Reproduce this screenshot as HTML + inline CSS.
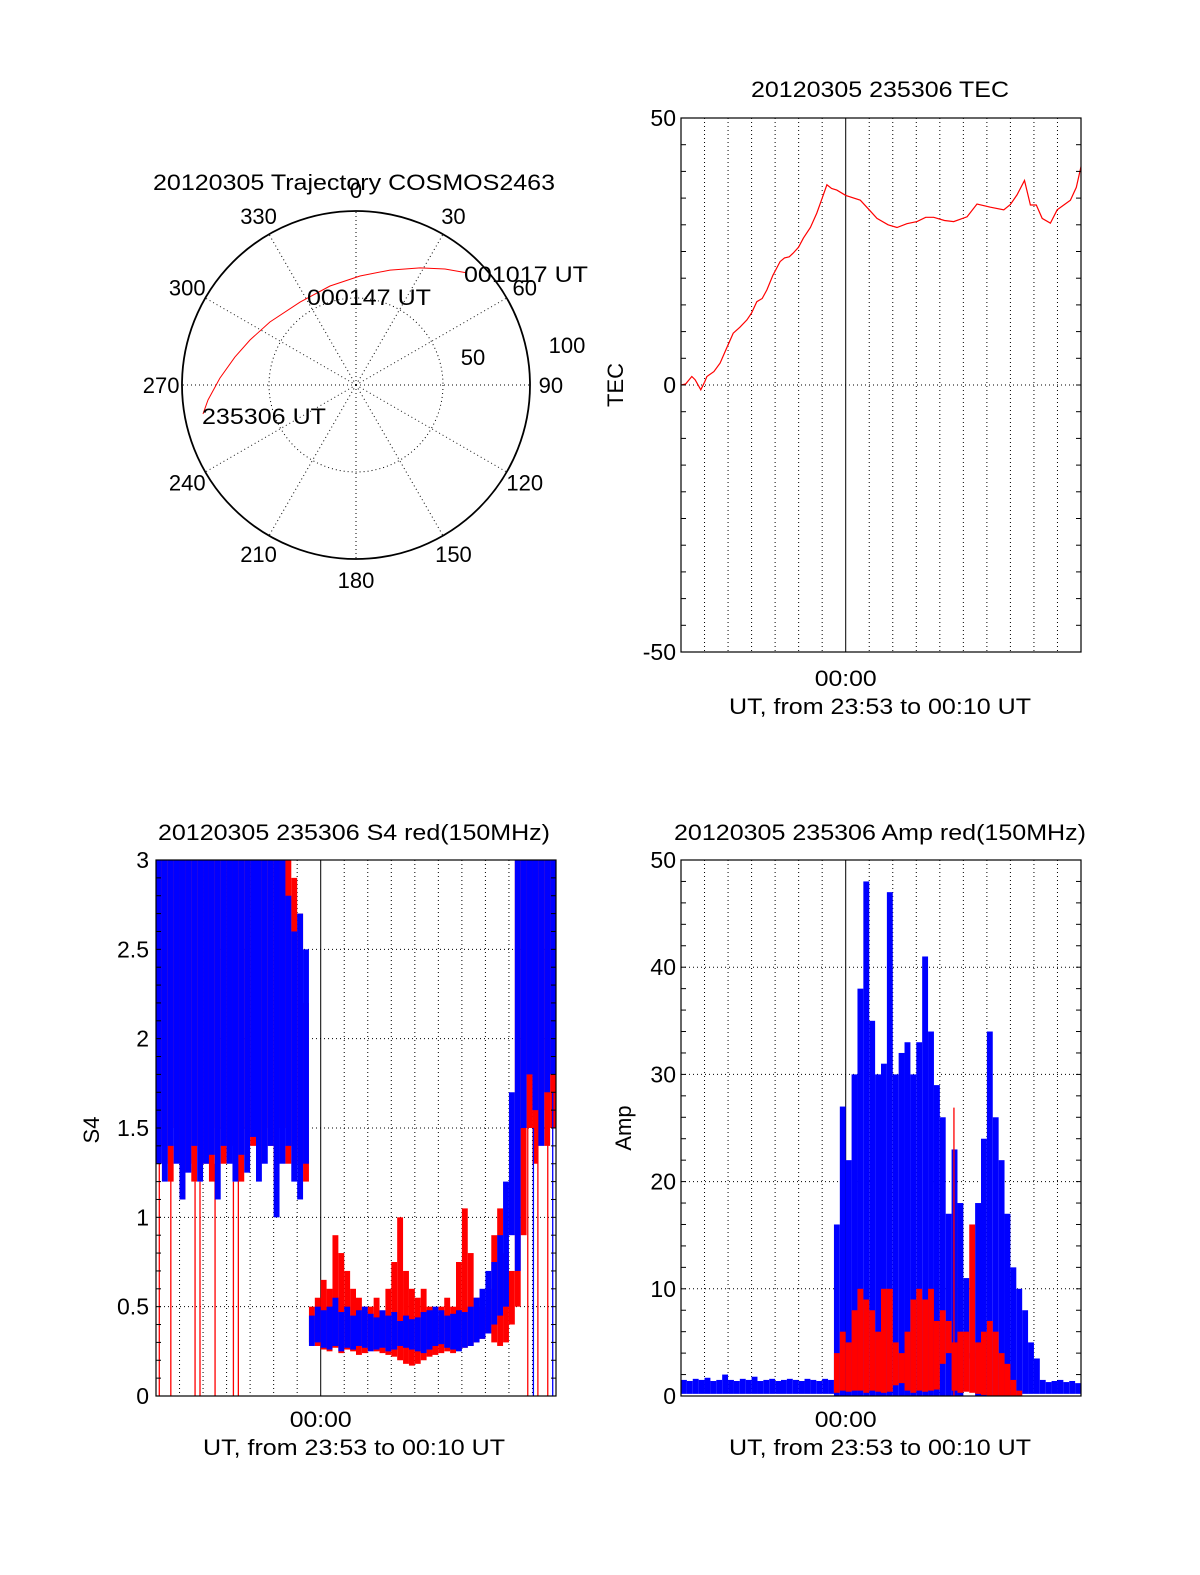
<!DOCTYPE html>
<html><head><meta charset="utf-8"><style>
html,body{margin:0;padding:0;background:#fff;overflow:hidden;width:1200px;height:1575px;}
svg{display:block;font-family:"Liberation Sans",Arial,sans-serif;}
</style></head><body>
<svg id="fig" width="1200" height="1575" viewBox="0 0 1200 1575" xmlns="http://www.w3.org/2000/svg"></svg>
<script>
// ---------- DATA ----------
const trajAz = [259.3,264.2,272.9,283,293,306.2,326,345.3,2.1,16.5,28.7,37.5,44.7];
const trajR  = [89.5,85.5,78.3,71.4,66.2,61.3,57.5,58.8,62.7,68.9,76.7,84.0,90.6];
const polarAngleLabels = ["0","30","60","90","120","150","180","210","240","270","300","330"];
const polarAngles = [0,30,60,90,120,150,180,210,240,270,300,330];

const tecT = [0,0.2,0.46,0.6,0.84,1.0,1.1,1.4,1.66,1.9,2.22,2.5,2.8,3.0,3.22,3.45,3.65,3.9,4.21,4.4,4.6,4.77,5.0,5.2,5.5,5.77,6.0,6.2,6.4,6.62,7.0,7.62,8.0,8.33,8.8,9.18,9.6,10.03,10.4,10.74,11.2,11.59,12.16,12.58,13.15,13.72,14.0,14.28,14.6,14.85,15.1,15.35,15.7,15.99,16.3,16.55,16.8,17];
const tecV = [0,0.2,1.6,1.0,-0.9,0.5,1.6,2.5,4.1,6.5,9.7,10.8,12.2,13.5,15.6,16.2,17.8,20.5,23.1,23.8,24.0,24.7,25.8,27.5,29.5,32.2,35.0,37.5,36.8,36.5,35.5,34.6,32.8,31.2,30.0,29.5,30.2,30.6,31.4,31.4,30.8,30.6,31.5,33.9,33.3,32.8,33.8,35.6,38.3,33.7,33.7,31.2,30.3,32.8,33.8,34.6,37.0,40.9];

const s4BlueLo = [1.3,1.2,1.4,1.3,1.1,1.25,1.4,1.2,1.3,1.35,1.1,1.4,1.3,1.2,1.35,1.25,1.45,1.2,1.3,1.4,1.0,1.3,1.4,1.2,1.1,1.3,
 0.28,0.3,0.27,0.26,0.28,0.25,0.27,0.26,0.28,0.27,0.25,0.26,0.27,0.25,0.26,0.28,0.27,0.26,0.25,0.24,0.26,0.28,0.29,0.27,0.26,0.25,0.27,0.28,0.3,0.32,0.35,0.4,0.45,0.5,
 0.9,0.7,1.5,1.8,1.6,1.4,1.7,1.8];
const s4BlueHi = [3,3,3,3,3,3,3,3,3,3,3,3,3,3,3,3,3,3,3,3,3,3,2.8,2.6,2.7,2.5,
 0.45,0.5,0.48,0.5,0.55,0.47,0.5,0.45,0.48,0.5,0.46,0.44,0.48,0.45,0.47,0.42,0.45,0.43,0.44,0.47,0.48,0.5,0.48,0.45,0.46,0.48,0.47,0.5,0.55,0.6,0.7,0.75,0.9,1.2,
 1.7,3,3,3,3,3,3,3];
const s4RedLo = [1.4,1.3,1.2,1.5,1.1,1.3,1.2,1.4,1.3,1.2,1.5,1.3,1.4,1.3,1.2,1.5,1.4,1.3,1.5,1.4,1.2,1.5,1.3,1.4,1.3,1.2,
 0.3,0.28,0.26,0.25,0.27,0.24,0.26,0.25,0.23,0.24,0.26,0.25,0.24,0.23,0.22,0.2,0.18,0.17,0.18,0.2,0.22,0.23,0.24,0.25,0.24,0.26,0.27,0.28,0.3,0.32,0.35,0.3,0.28,0.3,
 0.4,0.5,0.9,1.5,1.3,1.6,1.4,1.5];
const s4RedHi = [3,3,3,3,3,3,3,3,3,3,3,3,3,3,3,3,3,3,3,3,3,3,3,2.9,2.7,2.2,
 0.5,0.55,0.65,0.6,0.9,0.8,0.7,0.6,0.55,0.5,0.5,0.55,0.45,0.6,0.75,1.0,0.7,0.6,0.55,0.6,0.5,0.45,0.5,0.55,0.5,0.75,1.05,0.8,0.55,0.5,0.6,0.9,1.05,0.8,
 0.7,3,3,3,3,3,3,3];
const s4RedSpikeT = [0.14,0.63,1.66,1.87,2.51,3.29,3.5,15.8,16.23,16.65];
const s4RedSpikeV = [1.4,1.3,1.2,1.2,1.3,1.2,1.3,1.5,1.6,1.5];
const s4BlueSpikeT = [16.04,16.86];
const s4BlueSpikeV = [1.5,1.7];

const ampBlueHi = [1.5,1.4,1.6,1.5,1.7,1.4,1.5,2.0,1.5,1.4,1.6,1.5,1.8,1.4,1.5,1.6,1.4,1.5,1.6,1.5,1.4,1.6,1.5,1.4,1.6,1.5,
 16,27,22,30,38,48,35,30,31,47,30,32,33,30,33,41,34,29,26,17,23,18,11,4,18,24,34,26,22,17,12,10,8,5,3.5,1.5,
 1.3,1.4,1.5,1.3,1.4,1.2];
const ampBlueLo = [0.2,0.2,0.2,0.2,0.2,0.2,0.2,0.2,0.2,0.2,0.2,0.2,0.2,0.2,0.2,0.2,0.2,0.2,0.2,0.2,0.2,0.2,0.2,0.2,0.2,0.2,
 0,0,0,0,0,0,0,0,0,0,0,0,0,0,0,0,0,0,0,0,0,0,0.5,3.5,0,0,0,0,0,0,0,0,0.2,0.2,0.2,0.2,
 0.2,0.2,0.2,0.2,0.2,0.2];
const ampRedHi = [0,0,0,0,0,0,0,0,0,0,0,0,0,0,0,0,0,0,0,0,0,0,0,0,0,0,
 4,6,5,8,10,9,8,6,10,10,5,4,6,9,10,9,10,7,8,7,5,6,6,16,5,6,7,6,4,3,1.5,0.5,0,0,0,0,
 0,0,0,0,0,0];
const ampRedLo = [0,0,0,0,0,0,0,0,0,0,0,0,0,0,0,0,0,0,0,0,0,0,0,0,0,0,
 0.3,0.5,0.4,0.5,0.5,0.3,0.5,0.4,0.3,0.4,1.0,1.2,0.5,0.3,0.5,0.4,0.5,0.6,3.0,4.0,0.5,0.3,0.4,0.3,0.2,0.1,0,0,0,0,0,0,
 0,0,0,0,0,0];
const ampSpikeT = [11.6];
const ampSpikeV = [26.9];

const yTicksTEC = ["50","0","-50"];
const yTicksTECv = [50,0,-50];
const yTicksS4 = ["3","2.5","2","1.5","1","0.5","0"];
const yTicksS4v = [3,2.5,2,1.5,1,0.5,0];
const yTicksAmp = ["50","40","30","20","10","0"];
const yTicksAmpv = [50,40,30,20,10,0];

// ---------- DRAW ----------
const NS = 'http://www.w3.org/2000/svg';
const svg = document.getElementById('fig');
function el(tag, attrs, parent){
  const e = document.createElementNS(NS, tag);
  for (const k in attrs) e.setAttribute(k, attrs[k]);
  (parent||svg).appendChild(e);
  return e;
}
function txt(s, x, y, anchor, size, len, parent){
  const a = {x:x, y:y, 'text-anchor':anchor, 'font-size':size, fill:'#000'};
  if (len) { a.textLength = len; a.lengthAdjust = 'spacingAndGlyphs'; }
  const t = el('text', a, parent);
  t.textContent = s;
  return t;
}
function makePanel(name, L, T, W, H, ymin, ymax){
  const g = el('g', {});
  
  
  const X = t => L + t * W / 17;
  const Y = v => T + H - (Math.max(ymin, Math.min(ymax, v)) - ymin) * H / (ymax - ymin);
  return {g, X, Y, L, T, W, H};
}
function grid(p, hVals, solidT){
  for (let m = 1; m < 17; m++){
    const x = p.X(m);
    const ln = el('line', {x1:x, y1:p.T, x2:x, y2:p.T+p.H, stroke:'#000', 'stroke-width':1, 'stroke-dasharray': m===solidT ? 'none' : '1 3'}, p.g);
    
    
  }
  hVals.forEach(v => {
    const y = p.Y(v);
    const ln = el('line', {x1:p.L, y1:y, x2:p.L+p.W, y2:y, stroke:'#000', 'stroke-width':1, 'stroke-dasharray':'1 3'}, p.g);
    
    
  });
}
function frame(p, minorStep, ymin, ymax){
  for (let v = ymin; v <= ymax + 1e-9; v += minorStep){
    const y = p.Y(v);
    el('line', {x1:p.L, y1:y, x2:p.L+5, y2:y, stroke:'#000'}, p.g);
    el('line', {x1:p.L+p.W-5, y1:y, x2:p.L+p.W, y2:y, stroke:'#000'}, p.g);
  }
  const r = el('rect', {x:p.L, y:p.T, width:p.W, height:p.H, fill:'none', stroke:'#000', 'stroke-width':1.2}, p.g);
  
  
}
function envelope(p, lo, hi, color, name){
  const g = el('g', {fill:color}, p.g);
  
  
  for (let i = 0; i < hi.length; i++){
    if (hi[i] <= lo[i]) continue;
    const x0 = p.X(i*0.25), x1 = p.X((i+1)*0.25);
    const y0 = p.Y(hi[i]), y1 = p.Y(lo[i]);
    const r = el('rect', {x:x0, y:y0, width:x1-x0, height:Math.max(1, y1-y0)}, g);
    
    
  }
}
function spikes(p, ts, vs, color, name){
  ts.forEach((t,i) => {
    const x = p.X(t);
    const l = el('line', {x1:x, y1:p.Y(0), x2:x, y2:p.Y(vs[i]), stroke:color, 'stroke-width':1.3}, p.g);
    
    
  });
}
function yTicks(p, labels, vals, xr){
  labels.forEach((s,i) => {
    const t = txt(s, xr, p.Y(vals[i]) + 8, 'end', 23, null, p.g);
    
    
  });
}
function xLabels(p, cx){
  const a = txt('00:00', p.X(7), 686, 'middle', 22, 62, p.g);
  
  
  const b = txt('UT, from 23:53 to 00:10 UT', cx, 714, 'middle', 22, 302, p.g);
  
  
  return [a,b];
}

// ---- Polar plot ----
(function(){
  const g = el('g', {});
  
  
  const cx = 356, cy = 385, R = 174;
  const PX = (az, r) => cx + r*R/100*Math.sin(az*Math.PI/180);
  const PY = (az, r) => cy - r*R/100*Math.cos(az*Math.PI/180);
  const inner = el('circle', {cx:cx, cy:cy, r:R/2, fill:'none', stroke:'#000', 'stroke-dasharray':'1 3'}, g);
  
  
  polarAngles.forEach((a,i) => {
    const l = el('line', {x1:cx, y1:cy, x2:PX(a,100), y2:PY(a,100), stroke:'#000', 'stroke-dasharray':'1 3'}, g);
    
    
    const t = txt(polarAngleLabels[i], PX(a,112), PY(a,112)+8, 'middle', 22, null, g);
    
    
  });
  const outer = el('circle', {cx:cx, cy:cy, r:R, fill:'none', stroke:'#000', 'stroke-width':1.8}, g);
  
  
  const pts = trajAz.map((a,i) => PX(a,trajR[i]).toFixed(1) + ',' + PY(a,trajR[i]).toFixed(1)).join(' ');
  const tr = el('polyline', {points:pts, fill:'none', stroke:'#f00', 'stroke-width':1}, g);
  
  
  const t1 = txt('20120305 Trajectory COSMOS2463', 354, 190, 'middle', 22, 402, g);
  
  
  const l100 = txt('100', 567, 353, 'middle', 22, null, g);
  
  
  const l50 = txt('50', 473, 365, 'middle', 22, null, g);
  
  
  const e = txt('001017 UT', 464, 282, 'start', 22, 124, g);
  
  
  const m = txt('000147 UT', 307, 305, 'start', 22, 124, g);
  
  
  const s = txt('235306 UT', 202, 424, 'start', 22, 124, g);
  
  
})();

// ---- TEC plot ----
(function(){
  const p = makePanel('tec-plot', 681, 118, 400, 534, -50, 50);
  grid(p, [0], 7);
  const pts = tecT.map((t,i) => p.X(t).toFixed(1) + ',' + p.Y(tecV[i]).toFixed(1)).join(' ');
  const l = el('polyline', {points:pts, fill:'none', stroke:'#f00', 'stroke-width':1.2}, p.g);
  
  
  frame(p, 5, -50, 50);
  yTicks(p, yTicksTEC, yTicksTECv, 676);
  const ti = txt('20120305 235306 TEC', 880, 97, 'middle', 22, 258, p.g);
  
  
  const yt = el('text', {x:0, y:0, transform:'translate(623,385) rotate(-90)', 'text-anchor':'middle', 'font-size':22}, p.g);
  yt.textContent = 'TEC';
  
  
  xLabels(p, 880);
})();

// ---- S4 plot ----
(function(){
  const p = makePanel('s4-plot', 156, 860, 400, 536, 0, 3);
  grid(p, [0.5,1,1.5,2,2.5], 7);
  envelope(p, s4RedLo, s4RedHi, '#f00', 's4-red-series');
  spikes(p, s4RedSpikeT, s4RedSpikeV, '#f00', 's4-red-spike');
  envelope(p, s4BlueLo, s4BlueHi, '#00f', 's4-blue-series');
  spikes(p, s4BlueSpikeT, s4BlueSpikeV, '#00f', 's4-blue-spike');
  frame(p, 0.1, 0, 3);
  yTicks(p, yTicksS4, yTicksS4v, 149);
  const ti = txt('20120305 235306 S4 red(150MHz)', 354, 840, 'middle', 22, 392, p.g);
  
  
  const yt = el('text', {x:0, y:0, transform:'translate(99,1130) rotate(-90)', 'text-anchor':'middle', 'font-size':22}, p.g);
  yt.textContent = 'S4';
  
  
  const xl = xLabels(p, 354);
  xl[0].setAttribute('y', 1427);
  xl[1].setAttribute('y', 1455);
})();

// ---- Amp plot ----
(function(){
  const p = makePanel('amp-plot', 681, 860, 400, 536, 0, 50);
  grid(p, [10,20,30,40], 7);
  envelope(p, ampBlueLo, ampBlueHi, '#00f', 'amp-blue-series');
  envelope(p, ampRedLo, ampRedHi, '#f00', 'amp-red-series');
  spikes(p, ampSpikeT, ampSpikeV, '#f00', 'amp-red-spike');
  frame(p, 2, 0, 50);
  yTicks(p, yTicksAmp, yTicksAmpv, 676);
  const ti = txt('20120305 235306 Amp red(150MHz)', 880, 840, 'middle', 22, 412, p.g);
  
  
  const yt = el('text', {x:0, y:0, transform:'translate(631,1128) rotate(-90)', 'text-anchor':'middle', 'font-size':22}, p.g);
  yt.textContent = 'Amp';
  
  
  const xl = xLabels(p, 880);
  xl[0].setAttribute('y', 1427);
  xl[1].setAttribute('y', 1455);
})();
</script>
</body></html>
